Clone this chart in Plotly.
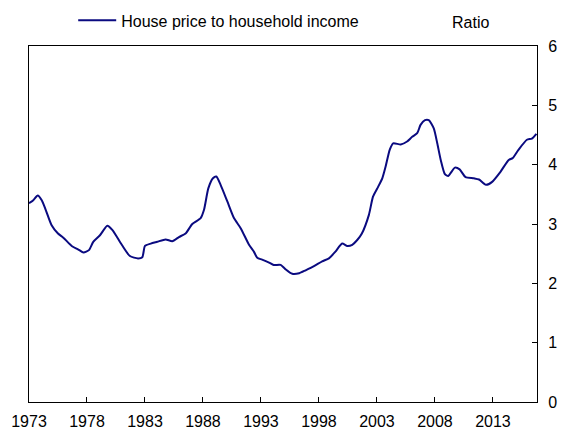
import plotly.graph_objects as go

years = [1973.0, 1973.37, 1973.75, 1974.1, 1974.44, 1974.95, 1975.5, 1975.96, 1976.68, 1977.25,
         1977.7, 1978.17, 1978.54, 1979.12, 1979.75, 1980.18, 1981.0, 1981.7, 1982.4, 1982.77,
         1983.0, 1983.5, 1984.06, 1984.78, 1985.35, 1985.93, 1986.5, 1987.08, 1987.8, 1988.09,
         1988.46, 1988.86, 1989.15, 1989.52, 1990.1, 1990.67, 1991.25, 1991.97, 1992.4, 1992.68,
         1993.1, 1993.7, 1994.1, 1994.7, 1995.1, 1995.7, 1996.3, 1996.85, 1997.57, 1998.28,
         1998.86, 1999.4, 2000.0, 2000.44, 2000.87, 2001.3, 2001.7, 2002.3, 2002.66, 2003.03,
         2003.46, 2003.75, 2004.1, 2004.4, 2005.05, 2005.6, 2006.04, 2006.47, 2006.76, 2007.14,
         2007.47, 2007.9, 2008.2, 2008.5, 2008.86, 2009.15, 2009.72, 2010.13, 2010.64, 2011.36,
         2011.8, 2012.4, 2012.93, 2013.65, 2014.36, 2014.7, 2015.2, 2015.93, 2016.36, 2016.75]
ratio = [3.35, 3.40, 3.48, 3.40, 3.24, 2.98, 2.84, 2.77, 2.63, 2.57,
         2.52, 2.56, 2.70, 2.81, 2.97, 2.90, 2.65, 2.46, 2.42, 2.44,
         2.63, 2.67, 2.70, 2.74, 2.71, 2.78, 2.84, 3.00, 3.10, 3.24,
         3.60, 3.77, 3.80, 3.66, 3.38, 3.10, 2.93, 2.65, 2.53, 2.43,
         2.40, 2.35, 2.31, 2.31, 2.24, 2.16, 2.17, 2.22, 2.29, 2.37,
         2.42, 2.53, 2.67, 2.63, 2.65, 2.73, 2.84, 3.15, 3.46, 3.60,
         3.77, 3.97, 4.25, 4.36, 4.34, 4.39, 4.47, 4.53, 4.67, 4.75,
         4.75, 4.61, 4.36, 4.08, 3.84, 3.81, 3.95, 3.92, 3.79, 3.77,
         3.75, 3.66, 3.71, 3.88, 4.08, 4.11, 4.25, 4.42, 4.44, 4.52]

x_ticks = [1973, 1978, 1983, 1988, 1993, 1998, 2003, 2008, 2013]
y_ticks = [0, 1, 2, 3, 4, 5, 6]
series_name = "House price to household income"
unit_label = "Ratio"

font_family = "Liberation Sans, Arial, sans-serif"

fig = go.Figure()
fig.add_trace(go.Scatter(
    x=years, y=ratio, mode="lines", name=series_name,
    line=dict(color="#0a0a80", width=2, shape="spline", smoothing=0.6),
    showlegend=True,
))

fig.update_layout(
    width=563, height=430,
    margin=dict(l=29, r=26, t=46, b=28, autoexpand=False),
    paper_bgcolor="white", plot_bgcolor="white",
    font=dict(family=font_family, size=16, color="black"),
    showlegend=True,
    legend=dict(
        orientation="h", x=0.087, xanchor="left", y=1.072, yanchor="middle",
        bgcolor="rgba(0,0,0,0)", font=dict(size=16), itemwidth=38,
    ),
    xaxis=dict(
        range=[1973, 2016.8], tickmode="array", tickvals=x_ticks,
        ticktext=[str(t) for t in x_ticks],
        ticks="inside", ticklen=5, tickcolor="black", ticklabelstandoff=5,
        showline=True, linecolor="black", linewidth=1, mirror=True,
        showgrid=False, zeroline=False,
    ),
    yaxis=dict(
        range=[0, 6], tickmode="array", tickvals=y_ticks, side="right",
        ticks="inside", ticklen=5, tickcolor="black", ticklabelstandoff=7,
        showline=True, linecolor="black", linewidth=1, mirror=True,
        showgrid=False, zeroline=False,
    ),
    annotations=[dict(
        text=unit_label, xref="paper", yref="paper", x=0.87, y=1.067,
        xanchor="center", yanchor="middle", showarrow=False,
        font=dict(size=16),
    )],
)

fig.write_html("out.html", config={"displayModeBar": False},
               post_script="document.body.style.margin='0';")
